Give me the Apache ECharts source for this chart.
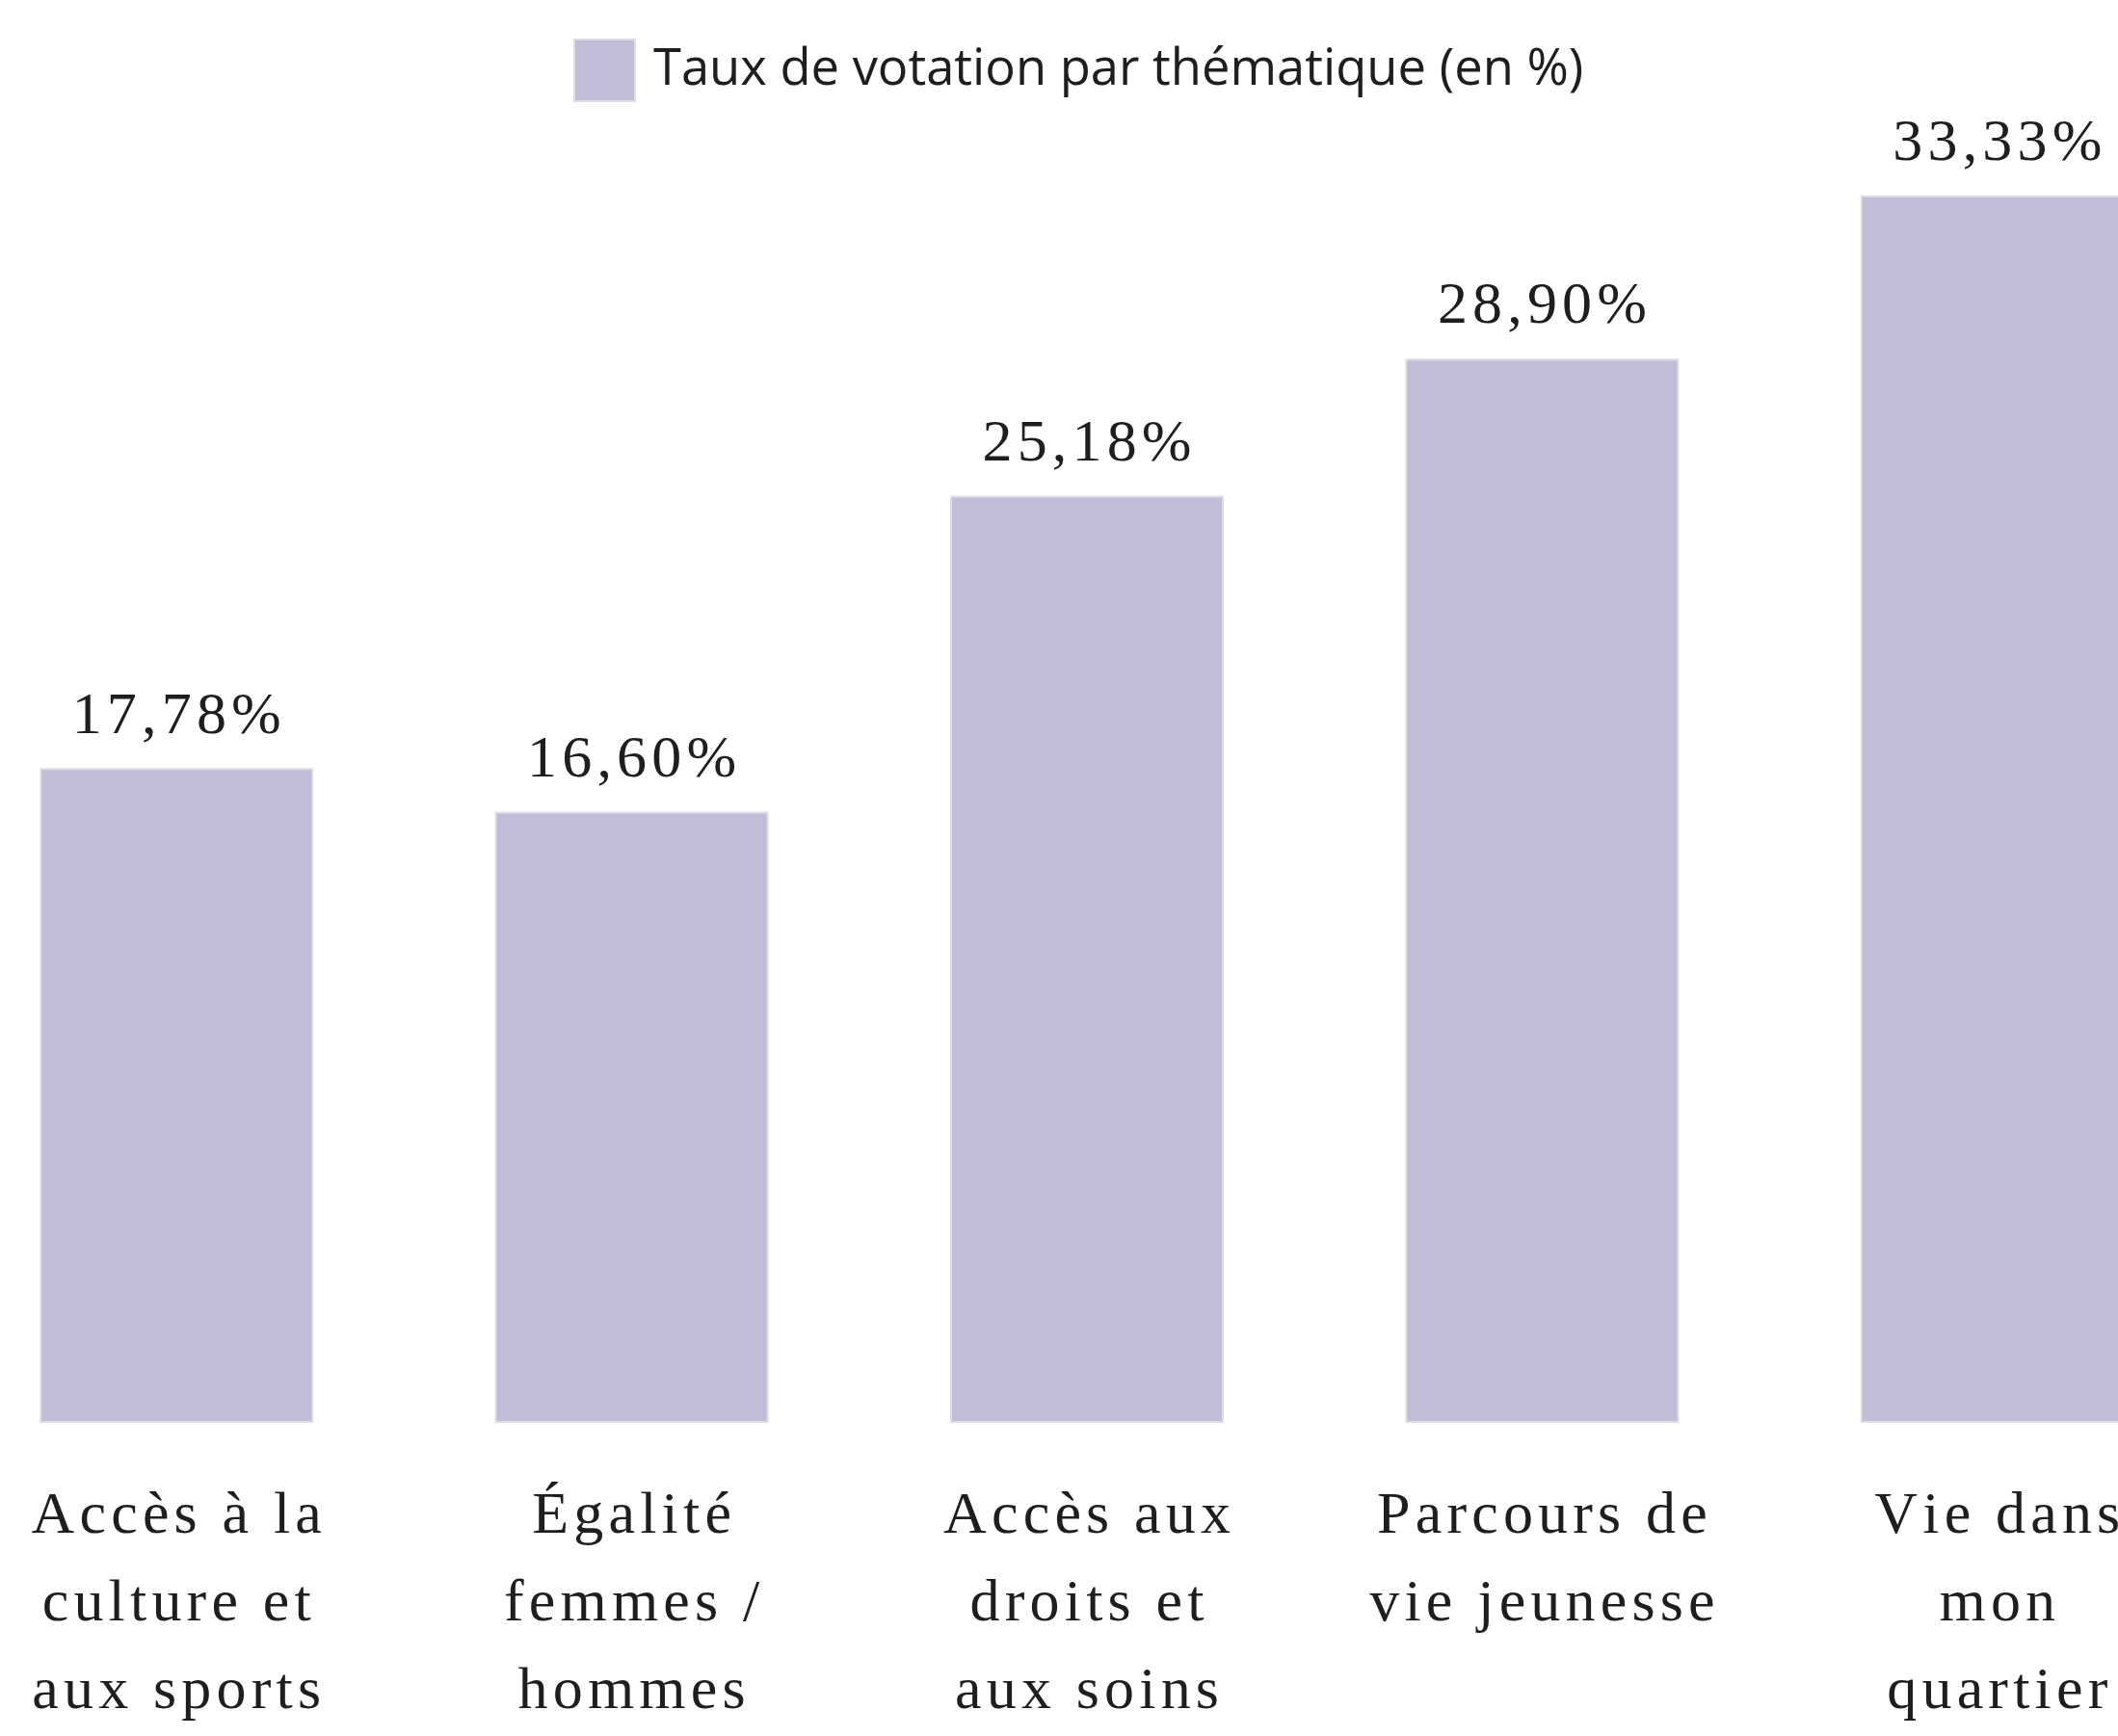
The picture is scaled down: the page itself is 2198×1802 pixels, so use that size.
<!DOCTYPE html>
<html>
<head>
<meta charset="utf-8">
<script src="https://cdn.jsdelivr.net/npm/echarts@6/dist/echarts.min.js"></script>
<style>
  html, body { margin: 0; padding: 0; background: #fff; overflow: hidden; width: 2198px; height: 1802px; }
  /* the source image is cropped: first and last bands run past the edges */
  #chart { position: absolute; left: -53px; top: 0; width: 2362px; height: 1802px; }
</style>
</head>
<body>
<div id="chart"></div>
<script>
// thématiques (x axis)
const categories = [
  'Accès à la\nculture et\naux sports',
  'Égalité\nfemmes /\nhommes',
  'Accès aux\ndroits et\naux soins',
  'Parcours de\nvie jeunesse',
  'Vie dans\nmon\nquartier'
];
// taux de votation (%)
const values = [17.78, 16.60, 25.18, 28.90, 33.33];
const seriesName = 'Taux de votation par thématique (en %)';

const barColor = '#c0bed6';
const serif = '"Liberation Serif", "DejaVu Serif", serif';
const HAIR = '\u200A';

// spread the letters out like the scanned labels
function spaced(s, n) {
  const gap = HAIR.repeat(n);
  return s.split('\n').map(line => Array.from(line).join(gap)).join('\n');
}

const chart = echarts.init(document.getElementById('chart'));
const option = {
  animation: false,
  backgroundColor: '#fff',
  legend: {
    left: 643,
    top: 35,
    itemWidth: 63,
    itemHeight: 64,
    icon: 'rect',
    textStyle: {
      fontFamily: '"Open Sans", sans-serif',
      fontSize: 52.5,
      color: '#1e1e1e',
      padding: [0, 0, 0, 14]
    },
    data: [seriesName]
  },
  grid: {
    left: 0,
    right: 0,
    top: 139,
    bottom: 317,
    containLabel: false
  },
  xAxis: {
    type: 'category',
    data: categories,
    axisLine: { show: false },
    axisTick: { show: false },
    axisLabel: {
      interval: 0,
      margin: 52,
      fontFamily: serif,
      fontSize: 62,
      lineHeight: 91,
      color: '#1e1e1e',
      align: 'center',
      formatter: v => spaced(v, 1)
    }
  },
  yAxis: {
    type: 'value',
    min: 0,
    max: 35,
    show: false,
    splitLine: { show: false }
  },
  series: [{
    name: seriesName,
    type: 'bar',
    data: values,
    barWidth: 284,
    itemStyle: {
      color: barColor,
      borderColor: '#dddce8',
      borderWidth: 2
    },
    label: {
      show: true,
      position: 'top',
      distance: 22,
      fontFamily: serif,
      fontSize: 62,
      color: '#1e1e1e',
      formatter: p => spaced(p.value.toFixed(2).replace('.', ',') + '%', 1)
    }
  }]
};
chart.setOption(option);
</script>
</body>
</html>
